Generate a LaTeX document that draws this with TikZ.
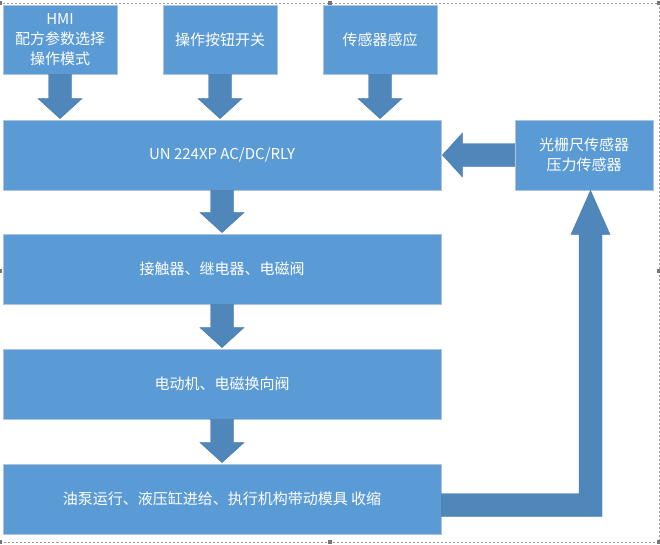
\documentclass[tikz,border=0pt]{standalone}
\usepackage{fontspec}
\setmainfont{Noto Sans CJK SC}
\usetikzlibrary{calc}

\definecolor{boxblue}{HTML}{5B9BD5}
\definecolor{boxedge}{HTML}{AFC2D8}
\definecolor{arrowblue}{HTML}{4F87BA}
\definecolor{framegray}{HTML}{9A9A9A}
\definecolor{handlegray}{HTML}{767676}

\tikzset{
  stepbox/.style={rectangle, draw=boxedge, line width=0.8pt, fill=boxblue, text=white, align=center, inner sep=0pt, font=\fontsize{15}{20}\selectfont},
  blockarrow/.style={fill=arrowblue, draw=arrowblue!90!black, line width=0.4pt},
  handle/.style={fill=handlegray}
}

% block arrow going down, from the bottom of #1 to the top of #2
\newcommand{\dnblock}[2]{%
\fill[blockarrow] let \p1=(#1.south), \p2=(#2.north) in
  (\x1-11.5pt,\y1) -- (\x1-11.5pt,\y2+21pt) -- (\x1-22pt,\y2+21pt) -- (\x1,\y2+1pt)
  -- (\x1+22pt,\y2+21pt) -- (\x1+11.5pt,\y2+21pt) -- (\x1+11.5pt,\y1) -- cycle;}

\begin{document}
\begin{tikzpicture}[x=1pt, y=-1pt]
\useasboundingbox (0,0) rectangle (660,544);

\draw[framegray, line width=0.6pt, dash pattern=on 2pt off 2pt] (-0.5,3) rectangle (659,542);
\foreach \hx/\hy in {0/3, 330/3, 659/3, 0/271, 659/271, 0/542, 330/542, 659/542}
  \fill[handle] (\hx-2,\hy-2) rectangle (\hx+2,\hy+2);

\node[stepbox, minimum width=114pt, minimum height=69pt] (hmi) at (60,39.5) {HMI\\配方参数选择\\操作模式};
\node[stepbox, minimum width=114pt, minimum height=69pt] (button) at (220,39.5) {操作按钮开关};
\node[stepbox, minimum width=114pt, minimum height=69pt] (sensing) at (380,39.5) {传感器感应};

\node[stepbox, minimum width=438pt, minimum height=70pt] (plc) at (222,155) {UN 224XP AC/DC/RLY};
\node[stepbox, minimum width=138pt, minimum height=70pt] (grating) at (584,155) {光栅尺传感器\\压力传感器};

\node[stepbox, minimum width=438pt, minimum height=70pt] (relay) at (222,269) {接触器、继电器、电磁阀};
\node[stepbox, minimum width=438pt, minimum height=70pt] (motor) at (222,384) {电动机、电磁换向阀};
\node[stepbox, minimum width=438pt, minimum height=70pt] (pump) at (222,499) {油泵运行、液压缸进给、执行机构带动模具 收缩};

\dnblock{hmi}{plc}
\dnblock{button}{plc}
\dnblock{sensing}{plc}
\dnblock{plc}{relay}
\dnblock{relay}{motor}
\dnblock{motor}{pump}

% feedback from the sensors into the controller
\fill[blockarrow] let \p1=(grating.west), \p2=(plc.east) in
  (\x1,\y1+11.5pt) -- (\x2+21pt,\y1+11.5pt) -- (\x2+21pt,\y1+22pt) -- (\x2+1pt,\y1)
  -- (\x2+21pt,\y1-22pt) -- (\x2+21pt,\y1-11.5pt) -- (\x1,\y1-11.5pt) -- cycle;

% elbow from the press back up to the sensors
\fill[blockarrow] let \p1=(pump.east), \p2=(grating.south) in
  (\x1,\y1+5.5pt) -- (\x2-5pt,\y1+5.5pt) -- (\x2-5pt,\y2-44pt) -- (\x2-13pt,\y2-44pt)
  -- (\x2+6.5pt,\y2) -- (\x2+26pt,\y2-44pt) -- (\x2+18pt,\y2-44pt) -- (\x2+18pt,\y1-17.5pt)
  -- (\x1,\y1-17.5pt) -- cycle;

\end{tikzpicture}
\end{document}
